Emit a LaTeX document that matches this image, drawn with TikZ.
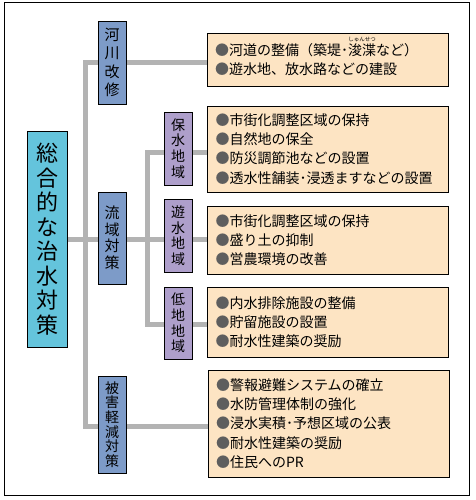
\documentclass[tikz,border=0pt]{standalone}
\usepackage{fontspec}
\setmainfont{Noto Sans CJK JP}
\usetikzlibrary{backgrounds}

\definecolor{maincyan}{HTML}{64C4DC}
\definecolor{colblue}{HTML}{7D9BC8}
\definecolor{areapurple}{HTML}{AE9FCB}
\definecolor{listcream}{HTML}{FDE4C3}
\definecolor{conngray}{HTML}{B3B3B3}
\definecolor{dotgray}{HTML}{5E5E5E}

\newcommand{\bul}{\textcolor{dotgray}{●}}
\newcommand{\furi}[2]{\leavevmode\setbox0\hbox{#1}\rlap{\raisebox{1.0em}[0pt][0pt]{\makebox[\wd0]{\fontsize{5.5}{6}\selectfont #2}}}\copy0}

\begin{document}
\begin{tikzpicture}[x=1pt, y=-1pt]

\tikzset{mainbox/.style={draw, line width=0.8pt, fill=maincyan, minimum width=40pt, minimum height=216pt, inner sep=0pt, align=center, font=\fontsize{22}{24.5}\selectfont}}
\tikzset{colbox/.style={draw, line width=0.8pt, fill=colblue, minimum width=28pt, inner sep=0pt, align=center}}
\tikzset{areabox/.style={draw, line width=0.8pt, fill=areapurple, minimum width=28pt, inner sep=0pt, align=center, font=\fontsize{14}{15.7}\selectfont}}
\tikzset{listbox/.style={draw, line width=0.8pt, fill=listcream, inner xsep=8pt, inner ysep=0pt, text width=225pt, align=left, font=\fontsize{14}{19.2}\selectfont}}
\tikzset{conn/.style={draw=conngray, line width=5pt}}

% frame
\useasboundingbox (0,0) rectangle (475,500);
\draw[line width=1pt] (4,3) rectangle (469,495);

% main title
\node[mainbox] at (47, 239) (sg) {総\\合\\的\\な\\治\\水\\対\\策};

% three measures
\node[colbox, minimum height=83pt, font=\fontsize{15}{18.3}\selectfont] at (112, 62.5) (kk) {河\\川\\改\\修};
\node[colbox, minimum height=92pt, font=\fontsize{15}{16.5}\selectfont] at (112, 238) (ry) {流\\域\\対\\策};
\node[colbox, minimum height=97pt, font=\fontsize{14}{14.6}\selectfont] at (112, 424.5) (hg) {被\\害\\軽\\減\\対\\策};

% areas of the basin
\node[areabox, minimum height=73pt] at (178, 148.5) (hs) {保\\水\\地\\域};
\node[areabox, minimum height=73pt] at (178, 235.5) (ys) {遊\\水\\地\\域};
\node[areabox, minimum height=72pt] at (178, 323) (tc) {低\\地\\地\\域};

% lists
\node[listbox, minimum height=53pt] at (327.5, 59.5) (kkl) {\bul 河道の整備（築堤･\furi{浚渫}{しゅんせつ}など）\\
\bul 遊水地、放水路などの建設};
\node[listbox, minimum height=86pt] at (328, 149) (hsl) {\bul 市街化調整区域の保持\\
\bul 自然地の保全\\
\bul 防災調節池などの設置\\
\bul 透水性舗装･浸透ますなどの設置};
\node[listbox, minimum height=68pt] at (328, 240) (ysl) {\bul 市街化調整区域の保持\\
\bul 盛り土の抑制\\
\bul 営農環境の改善};
\node[listbox, minimum height=70pt] at (328, 322) (tcl) {\bul 内水排除施設の整備\\
\bul 貯留施設の設置\\
\bul 耐水性建築の奨励};
\node[listbox, minimum height=107pt] at (328.5, 423.5) (hgl) {\bul 警報避難システムの確立\\
\bul 水防管理体制の強化\\
\bul 浸水実積･予想区域の公表\\
\bul 耐水性建築の奨励\\
\bul 住民へのPR};

% connectors
\coordinate (ja) at (85, 63);
\coordinate (jb) at (85, 426);
\coordinate (jc) at (147, 152);
\coordinate (jd) at (147, 324);
\begin{scope}[on background layer]
\draw[conn] (sg.east) -- (sg.east -| ysl.west);
\draw[conn] (kkl.west |- ja) -- (ja) -- (jb) -- (hgl.west |- jb);
\draw[conn] (hsl.west |- jc) -- (jc) -- (jd) -- (tcl.west |- jd);
\end{scope}

\end{tikzpicture}
\end{document}
